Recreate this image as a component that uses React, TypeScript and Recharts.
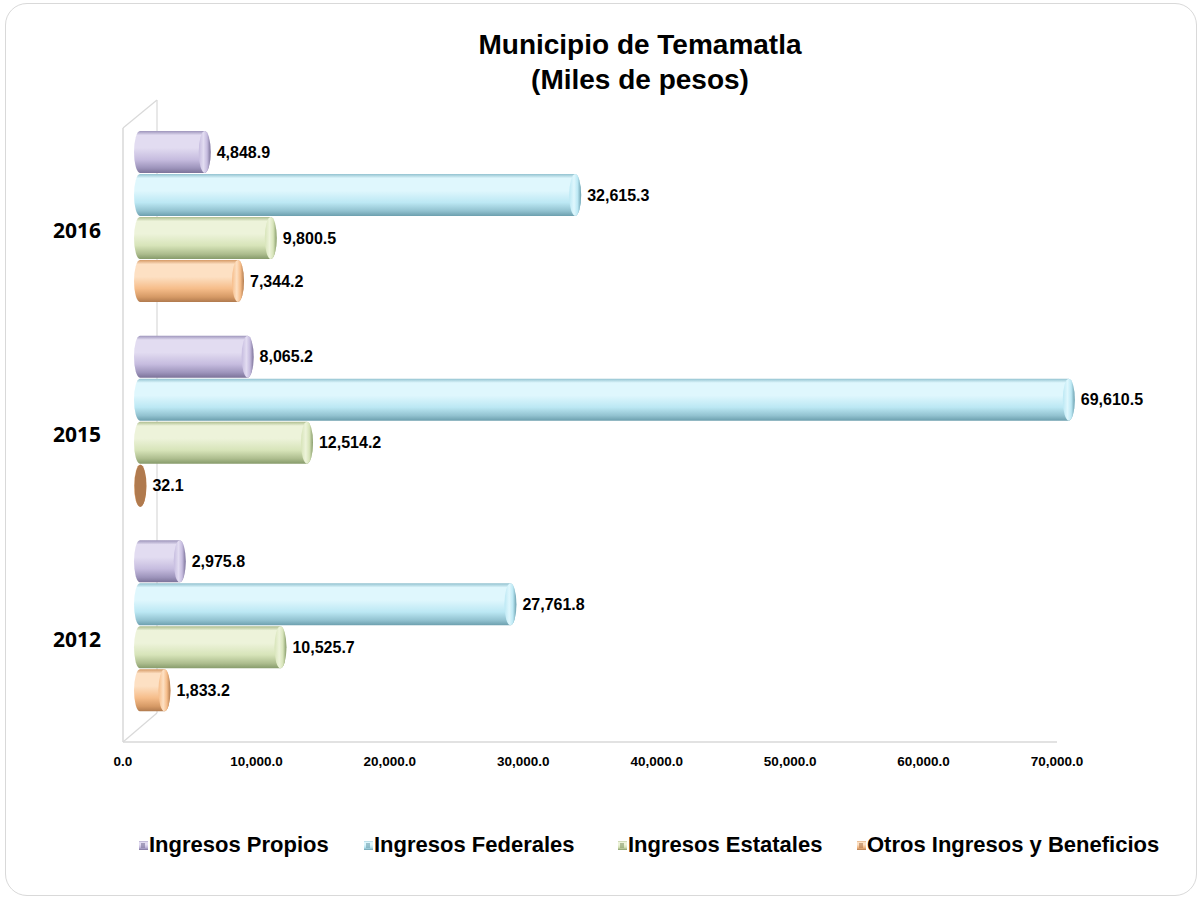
import React from 'react';
import { BarChart, Bar, XAxis, YAxis } from 'recharts';

// ---- data ----
const years = ['2016', '2015', '2012'];
const ingresosPropios = [4848.9, 8065.2, 2975.8];
const ingresosFederales = [32615.3, 69610.5, 27761.8];
const ingresosEstatales = [9800.5, 12514.2, 10525.7];
const otrosIngresos = [7344.2, 32.1, 1833.2];
const xTicks = [0, 10000, 20000, 30000, 40000, 50000, 60000, 70000];
const seriesKeys = ['propios', 'federales', 'estatales', 'otros'];
const seriesNames = ['Ingresos Propios', 'Ingresos Federales', 'Ingresos Estatales', 'Otros Ingresos y Beneficios'];

const data = years.map((y, i) => ({
  year: y,
  propios: ingresosPropios[i],
  federales: ingresosFederales[i],
  estatales: ingresosEstatales[i],
  otros: otrosIngresos[i],
}));

const palette: Record<string, { light: string; mid: string; dark: string; edge: string }> = {
  propios: { light: '#e2dcf1', mid: '#c6bcdf', dark: '#9d94bb', edge: '#7c7399' },
  federales: { light: '#dff7fd', mid: '#bce8f4', dark: '#92c2d0', edge: '#6c9fae' },
  estatales: { light: '#edf3da', mid: '#d7e4b9', dark: '#adbd8e', edge: '#879b6b' },
  otros: { light: '#fde0c3', mid: '#f6bd8a', dark: '#d69a66', edge: '#b07a4e' },
};

const FONT = '"Liberation Sans", Arial, sans-serif';
const DX = 17;
const DY = -14;
const RX = 6;

const fmt = (v: number) =>
  v.toLocaleString('en-US', { minimumFractionDigits: 1, maximumFractionDigits: 1 });

function makeShape(key: string) {
  return (p: any) => {
    const x = Number(p.x) || 0;
    const y = Number(p.y) || 0;
    const w = Math.max(0, Number(p.width) || 0);
    const h = Number(p.height) || 0;
    const v = p.payload ? p.payload[key] : p.value;
    const x0 = x + DX;
    const y0 = y + DY;
    const x1 = x0 + w;
    const d = `M ${x0} ${y0} L ${x1} ${y0} A ${RX} ${h / 2} 0 0 1 ${x1} ${y0 + h} L ${x0} ${y0 + h} A ${RX} ${h / 2} 0 0 1 ${x0} ${y0} Z`;
    const tiny = w < 2;
    return (
      <g>
        <path d={d} fill={`url(#body-${key})`} />
        <ellipse
          cx={x1}
          cy={y0 + h / 2}
          rx={RX}
          ry={h / 2}
          fill={tiny ? palette[key].edge : `url(#cap-${key})`}
        />
        <text
          x={x1 + RX + 6}
          y={y0 + h / 2}
          dominantBaseline="central"
          fontFamily={FONT}
          fontWeight="bold"
          fontSize={16}
          fill="#000"
        >
          {fmt(Number(v))}
        </text>
      </g>
    );
  };
}

const shapes: Record<string, any> = {};
seriesKeys.forEach((k) => (shapes[k] = makeShape(k)));

export default function App() {
  return (
    <div
      style={{
        position: 'absolute',
        left: 0,
        top: 0,
        width: 1204,
        height: 901,
        background: '#fff',
        fontFamily: FONT,
        overflow: 'hidden',
      }}
    >
      <svg width={0} height={0} style={{ position: 'absolute' }}>
        <defs>
          {seriesKeys.map((k) => (
            <React.Fragment key={k}>
              <linearGradient id={`body-${k}`} x1="0" y1="0" x2="0" y2="1">
                <stop offset="0%" stopColor={palette[k].dark} />
                <stop offset="10%" stopColor={palette[k].light} />
                <stop offset="40%" stopColor={palette[k].light} />
                <stop offset="68%" stopColor={palette[k].mid} />
                <stop offset="88%" stopColor={palette[k].dark} />
                <stop offset="100%" stopColor={palette[k].edge} />
              </linearGradient>
              <linearGradient id={`cap-${k}`} x1="0" y1="0" x2="1" y2="0">
                <stop offset="0%" stopColor={palette[k].mid} />
                <stop offset="40%" stopColor={palette[k].light} />
                <stop offset="70%" stopColor={palette[k].mid} />
                <stop offset="100%" stopColor={palette[k].edge} />
              </linearGradient>
            </React.Fragment>
          ))}
        </defs>
      </svg>

      {/* outer rounded frame */}
      <div
        style={{
          position: 'absolute',
          left: 5,
          top: 3,
          width: 1192,
          height: 893,
          border: '1px solid #d9d9d9',
          borderRadius: 22,
          boxSizing: 'border-box',
        }}
      />

      {/* 3D wall decoration */}
      <svg width={1204} height={901} style={{ position: 'absolute', left: 0, top: 0 }}>
        <line x1={123} y1={128} x2={157} y2={100} stroke="#d9d9d9" strokeWidth={1.2} />
        <line x1={157} y1={100} x2={157} y2={713} stroke="#d9d9d9" strokeWidth={1.2} />
        <line x1={123} y1={742} x2={157} y2={713} stroke="#d9d9d9" strokeWidth={1.2} />
      </svg>

      {/* title */}
      <div
        style={{
          position: 'absolute',
          left: 0,
          top: 27,
          width: 1280,
          textAlign: 'center',
          fontWeight: 'bold',
          fontSize: 28,
          lineHeight: '35px',
          color: '#000',
        }}
      >
        <div>Municipio de Temamatla</div>
        <div>(Miles de pesos)</div>
      </div>

      <div style={{ position: 'absolute', left: 0, top: 0 }}>
        <BarChart
          width={1204}
          height={901}
          data={data}
          layout="vertical"
          margin={{ top: 128, right: 147, left: 23, bottom: 129 }}
          barSize={42}
          barGap={1}
        >
          <XAxis
            type="number"
            domain={[0, 70000]}
            ticks={xTicks}
            tickFormatter={(v: number) => fmt(v)}
            axisLine={{ stroke: '#d9d9d9', strokeWidth: 1.5 }}
            tickLine={false}
            tickSize={0}
            tickMargin={14}
            height={30}
            tick={{ fontFamily: FONT, fontWeight: 'bold', fontSize: 13.5, fill: '#000' }}
          />
          <YAxis
            type="category"
            dataKey="year"
            width={100}
            axisLine={{ stroke: '#d9d9d9', strokeWidth: 1.5 }}
            tickLine={false}
            tickSize={0}
            tickMargin={22}
            tick={{ fontFamily: '"Open Sans", sans-serif', fontWeight: 'bold', fontSize: 21, fill: '#000' }}
          />
          {seriesKeys.map((k, i) => (
            <Bar
              key={k}
              dataKey={k}
              name={seriesNames[i]}
              fill={palette[k].mid}
              shape={shapes[k]}
              isAnimationActive={false}
            />
          ))}
        </BarChart>
      </div>

      {/* legend */}
      <div
        style={{
          position: 'absolute',
          left: 139,
          top: 832,
          width: 1050,
          height: 26,
          fontSize: 22,
          fontWeight: 'bold',
          color: '#000',
          whiteSpace: 'nowrap',
        }}
      >
        {seriesKeys.map((k, i) => (
          <div
            key={k}
            style={{
              position: 'absolute',
              top: 0,
              height: 26,
              left: [0, 225, 479, 718][i],
              display: 'flex',
              alignItems: 'center',
            }}
          >
            <svg width={9} height={9} style={{ marginRight: 1 }}>
              <rect x={0} y={0} width={9} height={9} fill={`url(#body-${k})`} />
              <rect x={2} y={2} width={4} height={5} fill={palette[k].edge} opacity={0.6} />
            </svg>
            <span>{seriesNames[i]}</span>
          </div>
        ))}
      </div>
    </div>
  );
}
